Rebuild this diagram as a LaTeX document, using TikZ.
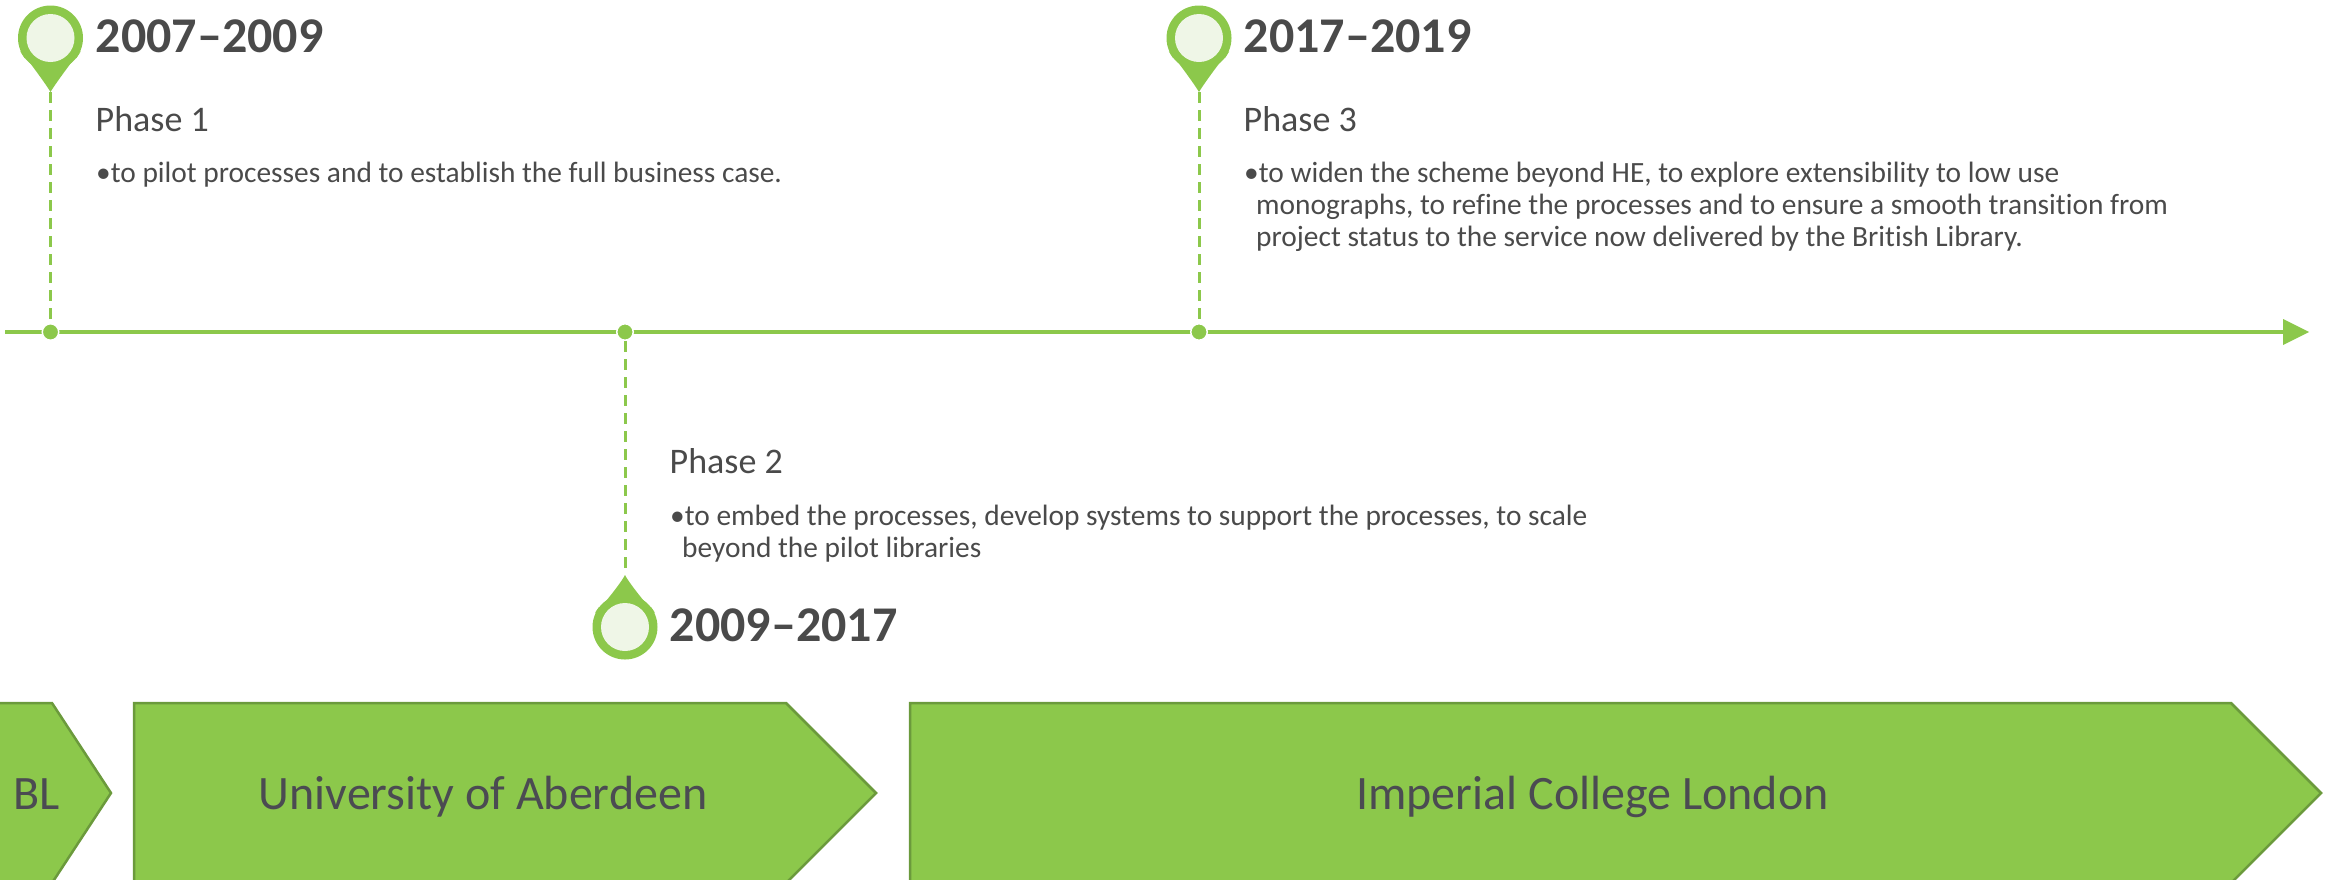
\documentclass[tikz,border=0pt]{standalone}
\usepackage{fontspec}
\setmainfont[Ligatures=NoCommon]{Carlito}
\definecolor{gfill}{HTML}{8CC84B}
\definecolor{gline}{HTML}{6B9A3C}
\definecolor{gpale}{HTML}{EFF6E7}
\definecolor{ink}{HTML}{4A4A4A}
\definecolor{inkb}{HTML}{4B4B52}
\newcommand{\hangin}{\hspace*{12pt}}
\tikzset{
 yeartext/.style={anchor=base west,inner sep=0pt,text=ink,font=\fontsize{50}{60}\selectfont\bfseries},
 phasetext/.style={anchor=base west,inner sep=0pt,text=ink,font=\fontsize{36}{43}\selectfont},
 bodytext/.style={anchor=base west,inner sep=0pt,text=ink,align=left,font=\fontsize{29.4}{32.2}\selectfont},
 blocktext/.style={anchor=base,inner sep=0pt,text=inkb,font=\fontsize{48}{56}\selectfont},
 blockshape/.style={fill=gfill,draw=gline,line width=2.5pt,line join=miter},
 axisline/.style={draw=gfill,line width=4.5pt},
 dashline/.style={draw=gfill,line width=3pt,dash pattern=on 11pt off 7pt},
 dotmark/.style={circle,fill=gfill,draw=white,line width=1.5pt,minimum size=16.5pt,inner sep=0pt},
 pinring/.style={circle,fill=gfill,minimum size=65pt,inner sep=0pt},
 pinface/.style={circle,fill=gpale,minimum size=48pt,inner sep=0pt},
 pinfoot/.style={fill=gfill},
}
\begin{document}
\begin{tikzpicture}[x=1pt,y=-1pt]
\useasboundingbox (0,0) rectangle (2328,879);
% blocks
\begin{scope}
\clip (0,0) rectangle (2328,879);
\path[blockshape] (-10,703) -- (52,703) -- (111,793) -- (52,883) -- (-10,883) -- cycle;
\path[blockshape] (134,703) -- (786,703) -- (876,793) -- (786,883) -- (134,883) -- cycle;
\path[blockshape] (910,703) -- (2231,703) -- (2321,793) -- (2231,883) -- (910,883) -- cycle;
\end{scope}
\node[blocktext] (bl) at (37,809) {BL};
\node[blocktext] (ab) at (483,809) {University of Aberdeen};
\node[blocktext] (ic) at (1592.5,809) {Imperial College London};
% axis
\coordinate (axs) at (5,332);
\coordinate (axe) at (2284,332);
\coordinate (axt) at (2309,332);
\path[axisline] (axs) -- (axe);
\path[fill=gfill] (axt) -- (2283,319) -- (2283,345) -- cycle;
% markers on axis
\coordinate (p1t) at (50.5,92);
\coordinate (p2t) at (625,575);
\coordinate (p3t) at (1199,92);
\node[dotmark] (d1) at (50.5,332) {};
\node[dotmark] (d2) at (625,332) {};
\node[dotmark] (d3) at (1199,332) {};
\path[dashline] (p1t) -- (d1);
\path[dashline] (d2) -- (p2t);
\path[dashline] (p3t) -- (d3);
% pin 1
\path[pinfoot] (p1t) .. controls +(-7,-12) and +(-16,-24) .. +(-26,-34) -- +(26,-34) .. controls +(16,-24) and +(7,-12) .. (p1t);
\node[pinring] (r1) at (50.5,38) {};
\node[pinface] (f1) at (r1) {};
% pin 2
\path[pinfoot] (p2t) .. controls +(-6,12) and +(-16,22) .. +(-26,32) -- +(26,32) .. controls +(16,22) and +(6,12) .. (p2t);
\node[pinring] (r2) at (625,627) {};
\node[pinface] (f2) at (r2) {};
% pin 3
\path[pinfoot] (p3t) .. controls +(-7,-12) and +(-16,-24) .. +(-26,-34) -- +(26,-34) .. controls +(16,-24) and +(7,-12) .. (p3t);
\node[pinring] (r3) at (1199,38) {};
\node[pinface] (f3) at (r3) {};
% texts
\node[yeartext] (y1) at (95.5,52.4) {2007–2009};
\node[phasetext] (h1) at (95.5,131.4) {Phase 1};
\node[bodytext] (b1) at (96,182.7) {•to pilot processes and to establish the full business case.};
\node[phasetext] (h2) at (669.5,473.7) {Phase 2};
\node[bodytext,anchor=north west] (b2) at (670,504.7) {•to embed the processes, develop systems to support the processes, to scale\\\hangin beyond the pilot libraries};
\node[yeartext] (y2) at (669.5,641.4) {2009–2017};
\node[yeartext] (y3) at (1243.5,52.4) {2017–2019};
\node[phasetext] (h3) at (1243.5,131.4) {Phase 3};
\node[bodytext,anchor=north west] (b3) at (1244,161.9) {•to widen the scheme beyond HE, to explore extensibility to low use\\\hangin monographs, to refine the processes and to ensure a smooth transition from\\\hangin project status to the service now delivered by the British Library.};
\end{tikzpicture}
\end{document}
